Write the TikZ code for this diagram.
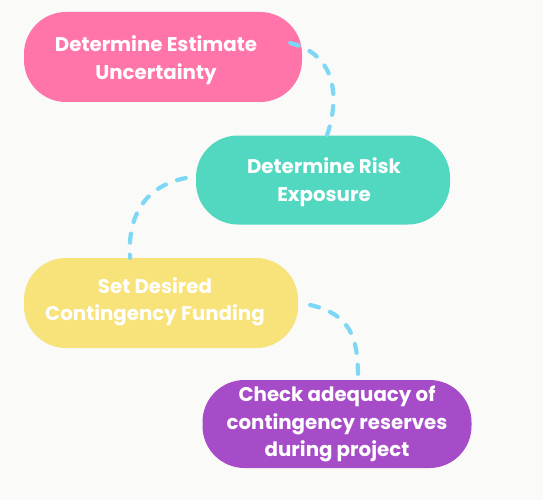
\documentclass[tikz,border=0pt]{standalone}
\usepackage{fontspec}
\setmainfont{Poppins}
\definecolor{bgc}{RGB}{250,250,249}
\definecolor{pinkc}{RGB}{255,117,170}
\definecolor{tealc}{RGB}{82,215,192}
\definecolor{yellowc}{RGB}{248,226,122}
\definecolor{purplec}{RGB}{167,76,200}
\definecolor{dashc}{RGB}{125,215,245}
\begin{document}
\begin{tikzpicture}[x=1pt,y=-1pt,
  blob/.style={rounded corners=42pt, inner sep=0pt},
  lbl/.style={inner sep=0pt, align=center, text=white,
    font=\fontsize{19.8pt}{27.5pt}\selectfont\bfseries},
  conn/.style={draw=dashc, line width=4.2pt, line cap=round, dash pattern=on 9pt off 12pt}]
\fill[bgc] (0,0) rectangle (543,500);
\useasboundingbox (0,0) rectangle (543,500);
\node[blob, fill=pinkc, minimum width=278pt, minimum height=90pt] (pink) at (163,57) {};
\node[lbl] (pinkt) at (156,60) {Determine Estimate\\Uncertainty};
\node[blob, fill=tealc, minimum width=254pt, minimum height=89pt] (teal) at (323,180) {};
\node[lbl] (tealt) at (324,182) {Determine Risk\\Exposure};
\node[blob, fill=yellowc, minimum width=274pt, minimum height=90pt] (yellow) at (161,303) {};
\node[lbl] (yellowt) at (155,302) {Set Desired\\Contingency Funding};
\node[blob, fill=purplec, minimum width=269pt, minimum height=88pt] (purple) at (337,424) {};
\node[lbl] (purplet) at (337,424) {Check adequacy of\\contingency reserves\\during project};
\draw[conn] ([xshift=-12pt,yshift=14pt]pink.east) .. controls +(48pt,-12pt) and +(12pt,35pt) .. ([xshift=4pt]teal.north);
\draw[conn] ([xshift=-10pt,yshift=2pt]teal.west) .. controls +(-50pt,-10pt) and +(-2pt,30pt) .. ([xshift=-31pt]yellow.north);
\draw[conn] ([xshift=12pt,yshift=-2pt]yellow.east) .. controls +(45pt,-10pt) and +(0pt,35pt) .. ([xshift=21pt]purple.north);
\end{tikzpicture}
\end{document}
